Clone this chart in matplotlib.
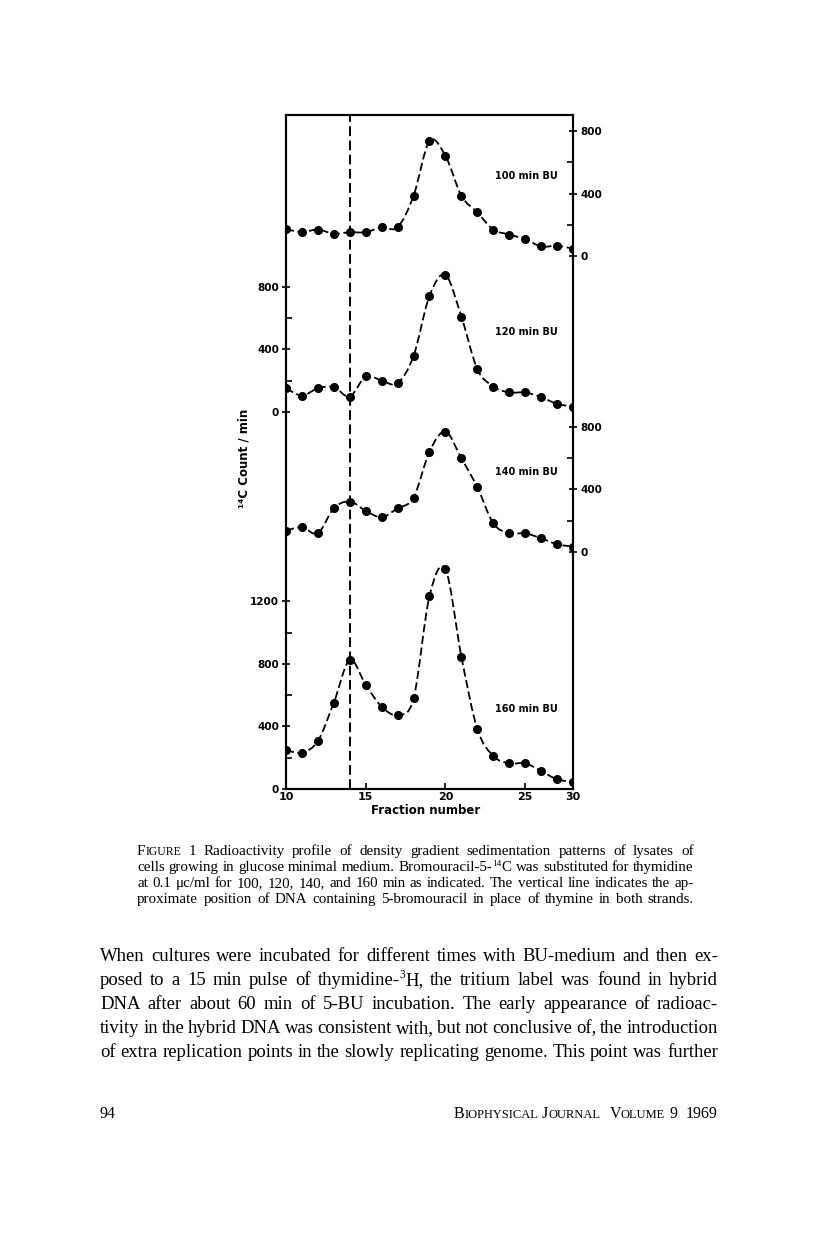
import numpy as np
import matplotlib
matplotlib.use("Agg")
import matplotlib.pyplot as plt
from matplotlib.path import Path
from matplotlib.patches import PathPatch
from matplotlib.font_manager import FontProperties
from matplotlib.transforms import IdentityTransform

# ---------------- data ----------------
fractions = [10, 11, 12, 13, 14, 15, 16, 17, 18, 19, 20, 21, 22, 23, 24, 25, 26, 27, 28]
counts_100 = [173, 153, 170, 143, 153, 153, 185, 185, 386, 735, 641, 386, 279, 170, 138, 109, 62, 66, 48]
counts_120 = [151, 104, 151, 158, 98, 226, 200, 183, 358, 741, 875, 609, 273, 162, 124, 124, 94, 51, 34]
counts_140 = [136, 158, 119, 279, 322, 262, 222, 279, 347, 641, 769, 598, 413, 183, 119, 119, 87, 49, 34]
counts_160 = [249, 232, 307, 552, 824, 665, 526, 473, 579, 1233, 1404, 846, 383, 211, 164, 164, 115, 62, 47]
panel_labels = ["100 min BU", "120 min BU", "140 min BU", "160 min BU"]
hybrid_fraction = 14
xtick_pos = [10, 15, 20, 25, 28]
xtick_labels = ["10", "15", "20", "25", "30"]

# ---------------- layout ----------------
W, H = 816, 1234
offsets = [3405, 2410, 1515, 0]
YMAX = 4307

fig = plt.figure(figsize=(W / 100, H / 100), dpi=100)
fig.patch.set_facecolor("white")
ax = fig.add_axes([286 / W, 1 - 789 / H, (573 - 286) / W, (789 - 115) / H])
ax.set_xlim(10, 28)
ax.set_ylim(0, YMAX)
for s in ax.spines.values():
    s.set_linewidth(1.5)


def smooth_path(x, y):
    P = np.column_stack([x, y]).astype(float)
    Pe = np.vstack([P[0], P, P[-1]])
    verts = [P[0]]
    codes = [Path.MOVETO]
    for i in range(len(P) - 1):
        p0, p1, p2, p3 = Pe[i], Pe[i + 1], Pe[i + 2], Pe[i + 3]
        c1 = p1 + (p2 - p0) / 6.0
        c2 = p2 - (p3 - p1) / 6.0
        verts += [c1, c2, p2]
        codes += [Path.CURVE4] * 3
    return Path(verts, codes)


bold = dict(family="DejaVu Sans", weight="bold")
x = np.array(fractions, float)
for counts, off, lab in zip([counts_100, counts_120, counts_140, counts_160], offsets, panel_labels):
    y = np.array(counts, float) + off
    ax.add_patch(PathPatch(smooth_path(x, y), fill=False, ec="black", lw=1.3,
                           ls=(0, (4.5, 2.0)), zorder=2))
    ax.plot(x, y, "o", color="black", ms=5.5, zorder=3)
    ax.text(23.1, off + 510, lab, fontsize=7, va="center", ha="left", **bold)

ax.axvline(hybrid_fraction, color="black", lw=1.4, ls=(0, (5, 2.3)), zorder=1)

# left ticks (panels 2 and 4)
lmaj = [(0, "0"), (400, "400"), (800, "800"), (1200, "1200"),
        (offsets[1], "0"), (offsets[1] + 400, "400"), (offsets[1] + 800, "800")]
lmin = [200, 600, 1000, offsets[1] + 200, offsets[1] + 600]
ax.set_yticks([p for p, _ in lmaj], [l for _, l in lmaj])
ax.set_yticks(lmin, minor=True)
ax.set_xticks(xtick_pos, xtick_labels)
ax.tick_params(axis="both", which="both", direction="in", length=4, width=1.2, pad=2)
ax.tick_params(axis="y", which="major", direction="inout", length=6)
for t in ax.get_yticklabels() + ax.get_xticklabels():
    t.set_fontfamily("DejaVu Sans")
    t.set_fontweight("bold")
for t in ax.get_yticklabels():
    t.set_fontsize(7.5)
for t in ax.get_xticklabels():
    t.set_fontsize(8)

# right ticks (panels 1 and 3)
ax2 = ax.twinx()
ax2.set_ylim(0, YMAX)
rmaj = [(offsets[2], "0"), (offsets[2] + 400, "400"), (offsets[2] + 800, "800"),
        (offsets[0], "0"), (offsets[0] + 400, "400"), (offsets[0] + 800, "800")]
rmin = [offsets[2] + 200, offsets[2] + 600, offsets[0] + 200, offsets[0] + 600]
ax2.set_yticks([p for p, _ in rmaj], [l for _, l in rmaj])
ax2.set_yticks(rmin, minor=True)
ax2.tick_params(axis="y", which="both", direction="in", length=4, width=1.2, pad=2.5)
ax2.tick_params(axis="y", which="major", direction="inout", length=6)
for t in ax2.get_yticklabels():
    t.set_fontfamily("DejaVu Sans")
    t.set_fontweight("bold")
    t.set_fontsize(7.5)
for s in ax2.spines.values():
    s.set_linewidth(1.5)

fig.text(244 / W, 1 - 458 / H, "\u00b9\u2074C Count / min", rotation=90, ha="center",
         va="center", fontsize=8.5, **bold)
fig.text(426 / W, 1 - 810 / H, "Fraction number", ha="center", va="center",
         fontsize=8.5, **bold)

# ---------------- page text ----------------
renderer = fig.canvas.get_renderer()
SERIF = "Liberation Serif"


def fp_for(size):
    return FontProperties(family=SERIF, size=size)


def rw(s, size):
    w, h, d = renderer.get_text_width_height_descent(s, fp_for(size), ismath=False)
    return w


def parse(word, size):
    runs = []
    for seg in word.split("|"):
        if seg.startswith("^"):
            runs.append((seg[1:], size * 0.62, 0.36 * size * 100 / 72))
        elif seg.startswith("~"):
            runs.append((seg[1:], size * 0.78, 0))
        else:
            runs.append((seg, size, 0))
    return runs


def word_width(runs):
    return sum(rw(s, sz) for s, sz, _ in runs)


def draw_word(runs, x, ybase):
    for s, sz, dy in runs:
        fig.text(x, H - ybase + dy, s, fontproperties=fp_for(sz),
                 transform=IdentityTransform(), ha="left", va="baseline", color="black")
        x += rw(s, sz)
    return x


def justified(line, x0, x1, ybase, size):
    words = [parse(w, size) for w in line.split()]
    widths = [word_width(r) for r in words]
    gap = (x1 - x0 - sum(widths)) / (len(words) - 1)
    x = x0
    for r, w in zip(words, widths):
        draw_word(r, x, ybase)
        x += w + gap


caption = [
    "F|~IGURE 1\u2002 Radioactivity profile of density gradient sedimentation patterns of lysates of",
    "cells growing in glucose minimal medium. Bromouracil-5-|^14|C was substituted for thymidine",
    "at 0.1 \u03bcc/ml for 100, 120, 140, and 160 min as indicated. The vertical line indicates the ap-",
    "proximate position of DNA containing 5-bromouracil in place of thymine in both strands.",
]
for i, line in enumerate(caption):
    justified(line, 137, 694, 855 + 16 * i, 10.8)

body = [
    "When cultures were incubated for different times with BU-medium and then ex-",
    "posed to a 15 min pulse of thymidine-|^3|H, the tritium label was found in hybrid",
    "DNA after about 60 min of 5-BU incubation. The early appearance of radioac-",
    "tivity in the hybrid DNA was consistent with, but not conclusive of, the introduction",
    "of extra replication points in the slowly replicating genome. This point was further",
]
for i, line in enumerate(body):
    justified(line, 100, 718, 961 + 24 * i, 13.4)

# footer
FS = 11.5
draw_word(parse("94", FS), 100, 1118)
footer = [("B|~IOPHYSICAL", 4), ("J|~OURNAL", 9), ("V|~OLUME", 4), ("9", 9), ("1969", 0)]
parsed = [(parse(w, FS), g) for w, g in footer]
total = sum(word_width(r) + g for r, g in parsed)
x = 718 - total
for r, g in parsed:
    x = draw_word(r, x, 1118) + g

fig.savefig("out.png", dpi=100, facecolor="white")
